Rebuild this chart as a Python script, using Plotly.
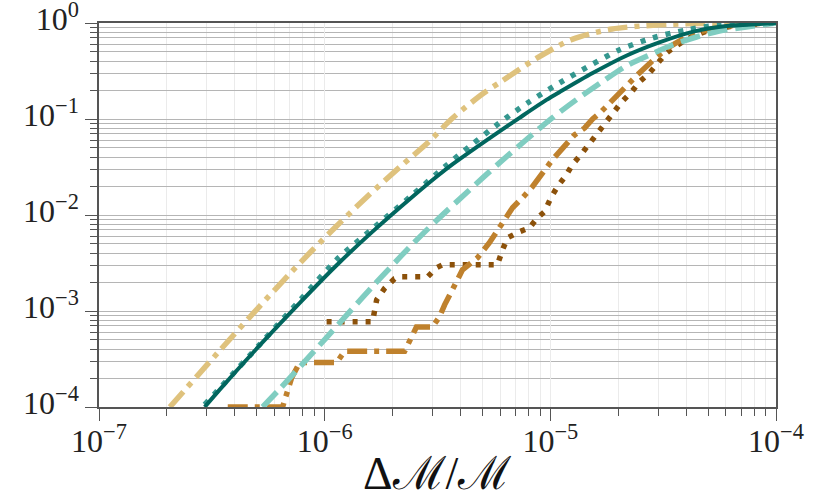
import plotly.graph_objects as go

# ---------------- data ----------------
tan_dashdot_x = [2.06e-7, 3.42e-7, 5.15e-7, 7.0e-7, 8.84e-7, 1.13e-6, 1.50e-6, 2.15e-6, 2.92e-6,
                 3.65e-6, 5.0e-6, 6.14e-6, 8.67e-6, 1.25e-5, 1.88e-5, 2.95e-5, 4.57e-5, 1.0e-4]
tan_dashdot_y = [1.0e-4, 3.85e-4, 1.12e-3, 2.44e-3, 4.32e-3, 7.69e-3, 1.46e-2, 3.15e-2, 5.90e-2,
                 0.100, 0.182, 0.251, 0.427, 0.676, 0.866, 0.953, 0.988, 1.0]

teal_solid_x = [2.94e-7, 3.42e-7, 5.15e-7, 7.74e-7, 1.13e-6, 1.63e-6, 2.45e-6, 3.16e-6, 3.68e-6,
                5.21e-6, 7.30e-6, 9.61e-6, 1.10e-5, 1.54e-5, 2.17e-5, 3.04e-5, 4.26e-5, 6.02e-5,
                8.43e-5, 1.0e-4]
teal_solid_y = [1.0e-4, 1.51e-4, 4.38e-4, 1.21e-3, 3.0e-3, 6.71e-3, 1.55e-2, 2.55e-2, 3.37e-2,
                6.0e-2, 0.1028, 0.158, 0.191, 0.301, 0.456, 0.628, 0.809, 0.929, 0.977, 1.0]

teal_dotted_x = [2.94e-7, 5.15e-7, 7.74e-7, 1.13e-6, 1.63e-6, 2.45e-6, 3.40e-6, 4.47e-6, 5.95e-6,
                 7.92e-6, 1.10e-5, 1.46e-5, 2.02e-5, 2.83e-5, 4.01e-5, 5.61e-5, 7.62e-5, 1.0e-4]
teal_dotted_y = [1.06e-4, 4.46e-4, 1.28e-3, 3.42e-3, 7.18e-3, 1.62e-2, 3.17e-2, 5.37e-2, 9.11e-2,
                 0.147, 0.238, 0.348, 0.524, 0.698, 0.846, 0.953, 0.988, 1.0]

light_teal_dashed_x = [5.31e-7, 6.32e-7, 7.74e-7, 9.49e-7, 1.13e-6, 1.33e-6, 1.63e-6, 1.94e-6,
                       2.45e-6, 3.13e-6, 3.84e-6, 5.00e-6, 5.95e-6, 7.84e-6, 1.02e-5, 1.31e-5,
                       1.70e-5, 2.17e-5, 2.75e-5, 3.47e-5, 4.44e-5, 5.61e-5, 7.39e-5, 1.0e-4]
light_teal_dashed_y = [1.0e-4, 1.54e-4, 2.59e-4, 4.40e-4, 6.93e-4, 1.06e-3, 1.80e-3, 2.79e-3,
                       4.97e-3, 8.75e-3, 1.37e-2, 2.42e-2, 3.49e-2, 6.12e-2, 0.1026, 0.160,
                       0.245, 0.357, 0.465, 0.590, 0.715, 0.826, 0.909, 1.0]

brown_dashdot_x = [3.72e-7, 6.51e-7, 7.13e-7, 7.74e-7, 1.13e-6, 1.225e-6, 2.26e-6, 2.55e-6, 3.0e-6,
                   3.23e-6, 3.40e-6, 3.65e-6, 3.88e-6, 4.08e-6, 4.76e-6, 5.37e-6, 5.95e-6, 6.80e-6,
                   7.52e-6, 8.33e-6, 1.02e-5, 1.13e-5, 1.28e-5, 1.42e-5, 1.54e-5, 1.68e-5, 1.88e-5,
                   2.07e-5, 2.24e-5, 2.43e-5, 2.80e-5, 3.30e-5, 4.01e-5, 4.57e-5, 5.61e-5, 7.62e-5,
                   1.0e-4]
brown_dashdot_y = [1.0e-4, 1.0e-4, 2.0e-4, 2.9e-4, 2.9e-4, 3.8e-4, 3.8e-4, 6.8e-4, 6.8e-4,
                   8.72e-4, 1.16e-3, 1.55e-3, 2.12e-3, 2.69e-3, 3.59e-3, 5.14e-3, 7.54e-3, 1.19e-2,
                   1.51e-2, 1.97e-2, 3.75e-2, 5.00e-2, 6.83e-2, 8.08e-2, 0.100, 0.119, 0.158,
                   0.196, 0.243, 0.288, 0.393, 0.549, 0.715, 0.806, 0.909, 0.976, 1.0]

brown_dotted_x = [1.02e-6, 1.63e-6, 1.70e-6, 1.84e-6, 2.04e-6, 2.15e-6, 2.86e-6, 3.13e-6, 3.33e-6,
                  5.83e-6, 6.14e-6, 6.46e-6, 7.30e-6, 8.08e-6, 8.77e-6, 9.42e-6, 1.011e-5, 1.075e-5,
                  1.178e-5, 1.25e-5, 1.374e-5, 1.49e-5, 1.60e-5, 1.736e-5, 1.88e-5, 2.07e-5,
                  2.29e-5, 2.48e-5, 2.75e-5, 2.98e-5, 3.27e-5, 3.54e-5, 4.13e-5, 5.06e-5, 6.88e-5,
                  1.0e-4]
brown_dotted_y = [7.74e-4, 7.74e-4, 1.31e-3, 1.71e-3, 2.17e-3, 2.27e-3, 2.27e-3, 2.82e-3, 3.03e-3,
                  3.03e-3, 4.34e-3, 5.79e-3, 6.69e-3, 7.36e-3, 9.35e-3, 1.08e-2, 1.55e-2, 1.97e-2,
                  2.62e-2, 3.33e-2, 4.33e-2, 5.51e-2, 7.17e-2, 9.11e-2, 0.1158, 0.1506, 0.191,
                  0.243, 0.302, 0.384, 0.487, 0.563, 0.698, 0.846, 0.953, 1.0]

x_tick_vals = [1e-7, 1e-6, 1e-5, 1e-4]
x_tick_text = ["10<sup>\u22127</sup>", "10<sup>\u22126</sup>", "10<sup>\u22125</sup>", "10<sup>\u22124</sup>"]
y_tick_vals = [1e-4, 1e-3, 1e-2, 1e-1, 1e0]
y_tick_text = ["10<sup>\u22124</sup>", "10<sup>\u22123</sup>", "10<sup>\u22122</sup>",
               "10<sup>\u22121</sup>", "10<sup>0</sup>"]
x_title = "\u0394\u2133/\u2133"

# ---------------- figure ----------------
x_minor = [m * 10.0 ** e for e in range(-7, -4) for m in range(2, 10)]
y_minor = [m * 10.0 ** e for e in range(-4, 0) for m in range(2, 10)]

fig = go.Figure()


def add(x, y, color, dash, width, shape="linear"):
    line = dict(color=color, dash=dash, width=width, shape=shape)
    if shape == "spline":
        line["smoothing"] = 0.8
    fig.add_trace(go.Scatter(x=x, y=y, mode="lines", line=line,
                             showlegend=False, hoverinfo="skip"))


add(brown_dotted_x, brown_dotted_y, "#8c510a", "5px,8px", 5.5)
add(brown_dashdot_x, brown_dashdot_y, "#bf812d", "20px,7px,5px,7px", 5.5)
add(tan_dashdot_x, tan_dashdot_y, "#dfc27d", "20px,7px,5px,7px", 5.5, "spline")
add(light_teal_dashed_x, light_teal_dashed_y, "#80cdc1", "20px,8px", 5.5, "spline")
add(teal_dotted_x, teal_dotted_y, "#35978f", "5px,8px", 5.5, "spline")
add(teal_solid_x, teal_solid_y, "#01665e", "solid", 4, "spline")

axis_color = "#555555"
serif = "Liberation Serif, DejaVu Serif, serif"
tick_font = dict(family=serif, size=32, color="#222222")

# plot area at x 99..776, y 23..407 of the 825x501 page
fig.update_layout(
    width=825, height=501,
    margin=dict(l=99, r=49, t=23, b=94),
    paper_bgcolor="white", plot_bgcolor="white",
    xaxis=dict(
        type="log", range=[-7, -4], automargin=False,
        tickmode="array", tickvals=x_tick_vals, ticktext=x_tick_text,
        ticks="outside", ticklen=12, tickwidth=1.2, tickcolor=axis_color,
        ticklabelstandoff=-7, ticklabeloverflow="allow",
        showline=True, linecolor=axis_color, linewidth=1.5, mirror=True,
        showgrid=True, gridcolor="#ebebeb", gridwidth=1, zeroline=False,
        minor=dict(tickmode="array", tickvals=x_minor, ticks="outside", ticklen=7,
                   tickwidth=1, tickcolor=axis_color, showgrid=True, gridcolor="#ebebeb",
                   gridwidth=1),
        tickfont=tick_font,
    ),
    yaxis=dict(
        type="log", range=[-4, 0], automargin=False,
        tickmode="array", tickvals=y_tick_vals, ticktext=y_tick_text,
        ticks="outside", ticklen=12, tickwidth=1.2, tickcolor=axis_color,
        ticklabeloverflow="allow", ticklabelshift=-4,
        showline=True, linecolor=axis_color, linewidth=1.5, mirror=True,
        showgrid=True, gridcolor="#b5b5b5", gridwidth=1, zeroline=False,
        minor=dict(tickmode="array", tickvals=y_minor, ticks="outside", ticklen=7,
                   tickwidth=1, tickcolor=axis_color, showgrid=True, gridcolor="#b5b5b5",
                   gridwidth=1),
        tickfont=tick_font,
    ),
    annotations=[dict(text=x_title, xref="paper", yref="paper", x=0.5, y=-0.172,
                      xanchor="center", yanchor="middle", showarrow=False,
                      font=dict(family=serif, size=46, color="#111111"))],
)

# remove the default 8px page margin so the figure sits at the window's corner
fig.write_html("out.html", config={"displayModeBar": False},
               post_script="document.body.style.margin='0px';")
